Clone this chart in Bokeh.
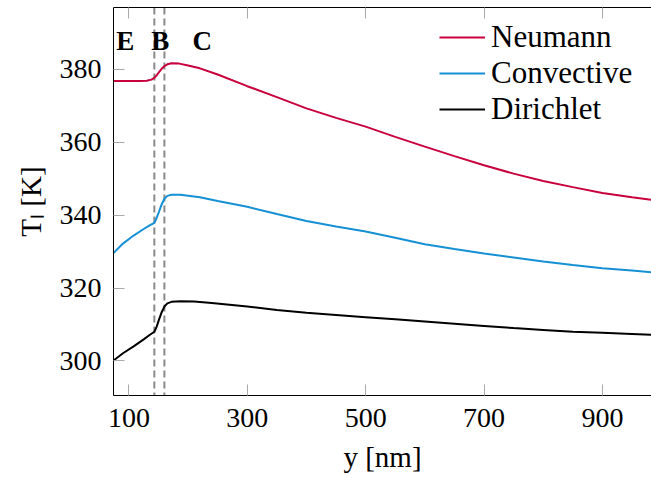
from bokeh.plotting import figure
from bokeh.models import (Range1d, FixedTicker, LinearAxis, Span, Legend,
                          LegendItem, CustomJSTickFormatter)
from bokeh.core.properties import value
from bokeh.embed import file_html
from bokeh.resources import INLINE

# ---- data ----
y_neumann = [74, 100, 120, 130, 138, 143, 147, 152, 156, 160, 165, 172, 185, 200, 220, 250,
             300, 350, 400, 450, 500, 550, 600, 650, 700, 750, 800, 850, 900, 950, 983]
T_neumann = [376.8, 376.8, 376.8, 376.9, 377.2, 377.7, 378.4, 379.5, 380.3, 380.9, 381.4, 381.7,
             381.6, 381.1, 380.3, 378.6, 375.4, 372.4, 369.3, 366.7, 364.3, 361.5, 358.8, 356.2,
             353.7, 351.4, 349.4, 347.7, 346.1, 344.9, 344.2]

y_convective = [74, 90, 108, 125, 135, 143, 147, 151, 155, 160, 165, 172, 187, 220, 250,
                300, 350, 400, 450, 500, 550, 600, 650, 700, 750, 800, 850, 900, 950, 983]
T_convective = [329.6, 332.2, 334.4, 336.2, 337.2, 337.9, 339.3, 341.0, 342.8, 344.5, 345.3, 345.6,
                345.6, 344.9, 343.9, 342.3, 340.3, 338.4, 336.9, 335.5, 333.8, 332.0, 330.7,
                329.5, 328.4, 327.3, 326.3, 325.4, 324.8, 324.3]

y_dirichlet = [74, 90, 108, 125, 135, 143, 147, 151, 155, 160, 165, 172, 187, 210, 240,
               300, 350, 400, 450, 500, 550, 600, 650, 700, 750, 800, 850, 900, 950, 983]
T_dirichlet = [300.1, 302.1, 304.0, 305.9, 307.1, 308.0, 309.4, 311.4, 313.2, 314.9, 315.8, 316.2,
               316.4, 316.3, 315.9, 314.9, 314.0, 313.2, 312.6, 312.0, 311.4, 310.8, 310.2,
               309.6, 309.0, 308.5, 308.0, 307.7, 307.4, 307.2]

series_names = ["Neumann", "Convective", "Dirichlet"]
series_colors = ["#C8003C", "#1690D5", "#000000"]

x_ticks = [100, 300, 500, 700, 900]
y_ticks = [300, 320, 340, 360, 380]
boundaries = [143, 160]
region_x = [94, 153, 224]
region_y = [387.7, 387.7, 387.7]
region_labels = ["E", "B", "C"]
x_title = "y [nm]"
y_title = "T\u2097 [K]"

SERIF = "Liberation Serif"

p = figure(width=651, height=478, output_backend="svg", toolbar_location=None,
           x_range=Range1d(74, 983), y_range=Range1d(290.5, 397.0),
           min_border_left=113, min_border_right=0, min_border_top=7, min_border_bottom=83)
p.outline_line_color = None
p.grid.visible = False
p.background_fill_color = "white"
p.border_fill_color = "white"

for ax in (p.xaxis[0], p.yaxis[0]):
    ax.axis_line_color = "black"
    ax.axis_line_width = 1
    ax.major_tick_in = 11
    ax.major_tick_out = 0
    ax.major_tick_line_color = "#aaaaaa"
    ax.minor_tick_line_color = None
    ax.major_label_text_font = SERIF
    ax.major_label_text_font_size = "28px"
    ax.major_label_text_color = "black"
    ax.axis_label_text_font = SERIF
    ax.axis_label_text_font_size = "29px"
    ax.axis_label_text_font_style = "normal"
    ax.axis_label_text_color = "black"
p.xaxis[0].ticker = FixedTicker(ticks=x_ticks)
p.yaxis[0].ticker = FixedTicker(ticks=y_ticks)
p.xaxis[0].major_label_standoff = 13
p.yaxis[0].major_label_standoff = 12
p.xaxis[0].axis_label = x_title
p.yaxis[0].axis_label = y_title
p.xaxis[0].axis_label_standoff = 11
p.yaxis[0].axis_label_standoff = 10

top = LinearAxis(ticker=FixedTicker(ticks=x_ticks),
                 formatter=CustomJSTickFormatter(code="return ''"),
                 major_label_text_font_size="0px", major_label_standoff=0,
                 major_tick_in=11, major_tick_out=0, major_tick_line_color="#aaaaaa",
                 minor_tick_line_color=None, axis_line_color="black")
p.add_layout(top, "above")

for b in boundaries:
    p.add_layout(Span(location=b, dimension="height", line_color="#8a8a8a",
                      line_width=2, line_dash="7 4", level="underlay"))

renderers = []
for xs, ys, c in ((y_neumann, T_neumann, series_colors[0]),
                  (y_convective, T_convective, series_colors[1]),
                  (y_dirichlet, T_dirichlet, series_colors[2])):
    renderers.append(p.line(xs, ys, line_color=c, line_width=2))

p.text(x=region_x, y=region_y, text=region_labels, text_font=value(SERIF),
       text_font_style="bold", text_font_size="27px", text_align="center",
       text_baseline="middle", text_color="black")

legend = Legend(items=[LegendItem(label=n, renderers=[r]) for n, r in zip(series_names, renderers)],
                location=(326, 268), padding=0, margin=0, spacing=0,
                glyph_width=46, glyph_height=36, label_height=36, label_standoff=6,
                border_line_color=None, background_fill_alpha=0,
                label_text_font=SERIF, label_text_font_size="31px", label_text_color="black")
p.add_layout(legend)

open("out.html", "w").write(file_html(p, INLINE))
